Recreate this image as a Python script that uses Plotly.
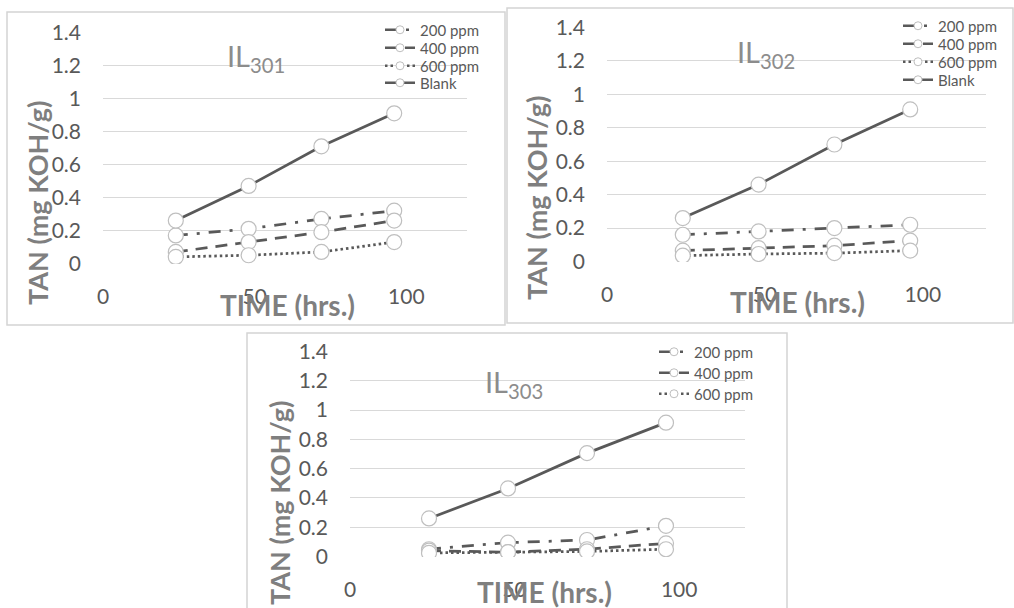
import plotly.graph_objects as go

# ---------------- data ----------------
time_h = [24, 48, 72, 96]
series_names = ["200 ppm", "400 ppm", "600 ppm", "Blank"]
panel_titles = ["301", "302", "303"]

il301_200 = [0.17, 0.21, 0.27, 0.32]
il301_400 = [0.07, 0.13, 0.19, 0.26]
il301_600 = [0.04, 0.05, 0.07, 0.13]
il301_blank = [0.26, 0.47, 0.71, 0.91]

il302_200 = [0.16, 0.18, 0.20, 0.22]
il302_400 = [0.065, 0.08, 0.095, 0.125]
il302_600 = [0.035, 0.045, 0.05, 0.065]
il302_blank = [0.26, 0.46, 0.70, 0.91]

il303_200 = [0.05, 0.095, 0.113, 0.21]
il303_400 = [0.04, 0.03, 0.05, 0.09]
il303_600 = [0.025, 0.03, 0.035, 0.05]
il303_blank = [0.26, 0.465, 0.706, 0.914]

y_ticks = [0, 0.2, 0.4, 0.6, 0.8, 1.0, 1.2, 1.4]
y_ticktext = ["0", "0.2", "0.4", "0.6", "0.8", "1", "1.2", "1.4"]
x_ticks = [0, 50, 100]
x_ticktext = ["0", "50", "100"]

panel_data = [
    [il301_200, il301_400, il301_600, il301_blank],
    [il302_200, il302_400, il302_600, il302_blank],
    [il303_200, il303_400, il303_600, il303_blank],
]
legend_show = [[True, True, True, True], [True, True, True, True], [True, True, True, False]]

# ---------------- layout geometry (pixels) ----------------
W, H = 1014, 608
def fx(p):
    return p / W
def fy(p):
    return 1 - p / H

panels = [
    dict(plot=(103, 467, 32, 264), frame=(7, 505, 12, 325), il=(256, 57),
         xt=(287, 305), yt=(38, 203), leg_text_x=422, leg_y=[30, 48, 66, 83]),
    dict(plot=(607, 986, 27, 262), frame=(507, 1013, 8, 323), il=(766, 54),
         xt=(797, 302), yt=(537, 198), leg_text_x=940, leg_y=[26, 44, 62, 80]),
    dict(plot=(350, 745, 351, 557), frame=(247, 787, 333, 660), il=(514, 383),
         xt=(544, 592), yt=(279, 503), leg_text_x=696, leg_y=[352, 373, 394]),
]

dashes = ["12px,9px,3px,9px", "12px,8px", "2.5px,3px", "solid"]
LINE = "#595959"
FONT = "Lato"

fig = go.Figure()
layout = dict(
    width=W, height=H, margin=dict(l=0, r=0, t=0, b=0, autoexpand=False),
    paper_bgcolor="white", plot_bgcolor="rgba(0,0,0,0)",
    font=dict(family=FONT, color=LINE),
    annotations=[], shapes=[],
)

leg_idx = 0
for i, p in enumerate(panels):
    sfx = "" if i == 0 else str(i + 1)
    x0, x1, y0, y1 = p["plot"]
    layout["xaxis" + sfx] = dict(
        domain=[fx(x0), fx(x1)], range=[0, 120], anchor="y" + sfx,
        tickvals=x_ticks, ticktext=x_ticktext, showgrid=False, zeroline=False,
        showline=False, ticks="", ticklabelstandoff=18,
        tickfont=dict(family=FONT, size=21, color=LINE),
    )
    layout["yaxis" + sfx] = dict(
        domain=[fy(y1), fy(y0)], range=[-0.003, 1.403], anchor="x" + sfx,
        tickvals=y_ticks, ticktext=y_ticktext, showgrid=True, gridcolor="#d9d9d9",
        gridwidth=1.3, zeroline=False, showline=False, ticks="", ticklabelstandoff=21,
        tickfont=dict(family=FONT, size=21, color=LINE),
    )
    fx0, fx1, fy0, fy1 = p["frame"]
    layout["shapes"].append(dict(
        type="rect", xref="paper", yref="paper", x0=fx(fx0), x1=fx(fx1),
        y0=fy(fy1), y1=fy(fy0), line=dict(color="#d4d4d4", width=1.5), layer="below",
    ))
    # titles
    layout["annotations"].append(dict(
        text="IL<sub>" + panel_titles[i] + "</sub>", x=fx(p["il"][0]), y=fy(p["il"][1]),
        xref="paper", yref="paper", showarrow=False, xanchor="center", yanchor="middle",
        font=dict(family=FONT, size=29, color="#8c8c8c"),
    ))
    layout["annotations"].append(dict(
        text="<b>TIME (hrs.)</b>", x=fx(p["xt"][0]), y=fy(p["xt"][1]),
        xref="paper", yref="paper", showarrow=False, xanchor="center", yanchor="middle",
        font=dict(family=FONT, size=28, color="#7f7f7f"),
    ))
    layout["annotations"].append(dict(
        text="<b>TAN (mg KOH/g)</b>", x=fx(p["yt"][0]), y=fy(p["yt"][1]),
        xref="paper", yref="paper", showarrow=False, xanchor="center", yanchor="middle",
        textangle=-90, font=dict(family=FONT, size=27, color="#7f7f7f"),
    ))
    li = 0
    for k, vals in enumerate(panel_data[i]):
        line_style = dict(color=LINE, width=2.75, dash=dashes[k])
        fig.add_trace(go.Scatter(
            x=time_h, y=vals, xaxis="x" + sfx, yaxis="y" + sfx, mode="lines+markers",
            name=series_names[k], showlegend=False, line=line_style,
            marker=dict(size=15, color="white", line=dict(color="#bfbfbf", width=1.2)),
        ))
        if legend_show[i][k]:
            leg_idx += 1
            leg_name = "legend" if leg_idx == 1 else "legend" + str(leg_idx)
            layout[leg_name] = dict(
                x=fx(p["leg_text_x"] - 42), y=fy(p["leg_y"][li]), xanchor="left",
                yanchor="middle", bgcolor="rgba(0,0,0,0)", borderwidth=0,
                itemsizing="trace",
                font=dict(family=FONT, size=15, color=LINE),
            )
            li += 1
            # legend-only proxy (draws no mark on the plot)
            fig.add_trace(go.Scatter(
                x=[None], y=[None], xaxis="x" + sfx, yaxis="y" + sfx, mode="lines+markers",
                name=series_names[k], showlegend=True, legend=leg_name,
                line=dict(color=LINE, width=2.5, dash=dashes[k]),
                marker=dict(size=8, color="white", line=dict(color="#bfbfbf", width=1)),
            ))

fig.update_layout(**layout)
fig.write_html("out.html")
